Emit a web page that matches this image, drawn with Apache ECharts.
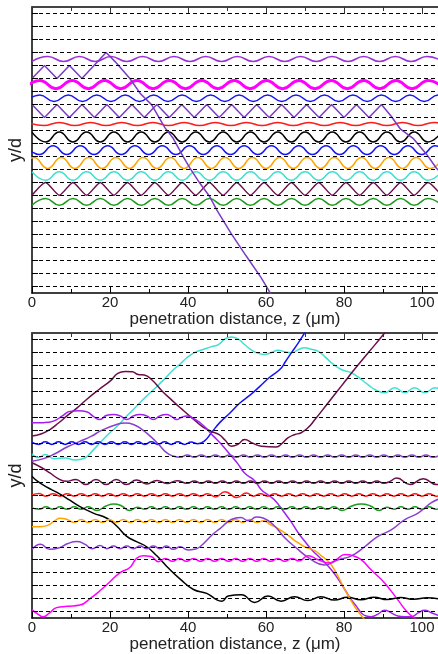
<!DOCTYPE html>
<html><head><meta charset="utf-8">
<script src="https://cdn.jsdelivr.net/npm/echarts@6/dist/echarts.min.js"></script>
<style>html,body{margin:0;padding:0;background:#fff}#c{width:438px;height:654px}</style>
</head><body><div id="c"></div><script>
// waveguide positions (dashed lines), in units of the array period d
const guides = [0,1,2,3,4,5,6,7,8,9,10,11,12,13,14,15,16,17,18,19,20,21];
const zTicks = [0,20,40,60,80,100];

// ---- upper panel: oscillating beams (extrema stations z, and the two alternating levels) ----
const violetTopZ = [0,4.05,8.1,12.15,16.2,20.25,24.3,28.35,32.4,36.45,40.5,44.55,48.6,52.65,56.7,60.75,64.8,68.85,72.9,76.95,81,85.05,89.1,93.15,97.2,101.25,105.3];
const violetTopLv = [3.69,3.31];
const magentaTopZ = [-2.15,2,6.15,10.3,14.45,18.6,22.75,26.9,31.05,35.2,39.35,43.5,47.65,51.8,55.95,60.1,64.25,68.4,72.55,76.7,80.85,85,89.15,93.3,97.45,101.6,105.75];
const magentaTopLv = [5.78,5.15];
const blueTopZ = [-1.65,2,5.65,9.3,12.95,16.6,20.25,23.9,27.55,31.2,34.85,38.5,42.15,45.8,49.45,53.1,56.75,60.4,64.05,67.7,71.35,75,78.65,82.3,85.95,89.6,93.25,96.9,100.55,104.2,107.85];
const blueTopLv = [6.77,6.26];
const redTopZ = [-1,3,7,11,15,19,23,27,31,35,39,43,47,51,55,59,63,67,71,75,79,83,87,91,95,99,103,107];
const redTopLv = [8.38,8.62];
const blackTopZ = [0,3.5,7,10.5,14,17.5,21,24.5,28,31.5,35,38.5,42,45.5,49,52.5,56,59.5,63,66.5,70,73.5,77,80.5,84,87.5,91,94.5,98,101.5,105];
const blackTopLv = [9.12,9.88];
const blue2TopZ = [-1.6,1.9,5.4,8.9,12.4,15.9,19.4,22.9,26.4,29.9,33.4,36.9,40.4,43.9,47.4,50.9,54.4,57.9,61.4,64.9,68.4,71.9,75.4,78.9,82.4,85.9,89.4,92.9,96.4,99.9,103.4,106.9];
const blue2TopLv = [10.18,10.85];
const orangeTopZ = [-3,0.5,4,7.5,11,14.5,18,21.5,25,28.5,32,35.5,39,42.5,46,49.5,53,56.5,60,63.5,67,70.5,74,77.5,81,84.5,88,91.5,95,98.5,102,105.5];
const orangeTopLv = [11.92,11.08];
const turqTopZ = [0,3.5,7,10.5,14,17.5,21,24.5,28,31.5,35,38.5,42,45.5,49,52.5,56,59.5,63,66.5,70,73.5,77,80.5,84,87.5,91,94.5,98,101.5,105];
const turqTopLv = [12.18,12.82];
const maroonTopZ = [0,3.5,7,10.5,14,17.5,21,24.5,28,31.5,35,38.5,42,45.5,49,52.5,56,59.5,63,66.5,70,73.5,77,80.5,84,87.5,91,94.5,98,101.5,105];
const maroonTopLv = [13.98,13.0];
const greenTopZ = [0,3.5,7,10.5,14,17.5,21,24.5,28,31.5,35,38.5,42,45.5,49,52.5,56,59.5,63,66.5,70,73.5,77,80.5,84,87.5,91,94.5,98,101.5,105];
const greenTopLv = [14.75,14.23];
// beams that hop between neighbouring guides and then escape
const hopTop1 = [[0,5],[3.2,4],[6.4,5],[9.6,4],[12.8,5],[19,3],[21.3,3.7],[25.1,5],[27.7,6.13],[30.7,7.03],[34.1,8.8],[36.2,9.6],[38.8,11.03],[40.5,11.9],[43.1,13.08],[45.6,14.1],[47.4,15.13],[51,16.9],[54.8,18.6],[58.7,20.3],[61.5,21.7]];
const hopTop2 = [[0,7],[3.2,8],[6.4,7],[9.6,8],[12.8,7],[16,8],[19.2,7],[22.4,8],[25.6,7],[28.8,8],[32,7],[35.2,8],[38.4,7],[41.6,8],[44.8,7],[48,8],[51.2,7],[54.4,8],[57.6,7],[60.8,8],[64,7],[67.2,8],[70.4,7],[73.6,8],[76.8,7],[80,8],[83.2,7],[86.4,8],[89.6,7],[92.1,7.9],[94.5,8.9],[97.7,9.6],[101.1,10.8],[103.7,11.9],[105,12.3]];

// ---- lower panel: beam trajectories ----
const turqBot = [[0,8.85],[1.7,9.12],[3.4,8.88],[5.6,9.2],[8.5,9.15],[11,9.3],[13.5,9.15],[15.5,8.6],[17.5,7.95],[19.6,7.3],[21.8,6.7],[24,6.0],[26,5.4],[28.6,4.6],[31.2,3.86],[33.8,3.1],[36.3,2.32],[38,1.9],[39.7,1.41],[41.8,1.0],[43.9,0.77],[46,0.55],[47.8,0.39],[49.5,-0.05],[51.2,-0.2],[52.8,-0.05],[54.5,0.39],[57,0.95],[59.6,1.16],[61.4,1.0],[63.1,0.83],[64.8,0.95],[66.5,1.03],[68.2,0.8],[69.9,0.64],[71.6,0.75],[73.3,0.9],[75,1.3],[76.8,1.8],[79.3,2.32],[81.9,2.57],[84.4,3.09],[86.2,3.5],[87.9,3.86],[90.4,4.12],[93,3.73],[95.6,4.1],[98.1,3.73],[100.7,4.1],[103.3,3.73],[105.9,4.1]];
const blueBot = [[0,7.92],[1.7,8.1],[3.4,7.9],[5.1,8.1],[6.8,7.9],[8.5,8.1],[10.2,7.9],[11.9,8.1],[13.6,7.9],[15.3,8.1],[17,7.9],[18.7,8.1],[20.4,7.9],[22.1,8.1],[23.8,7.9],[25.5,8.1],[27.2,7.9],[28.9,8.1],[30.6,7.9],[32.3,8.1],[34,7.9],[35.7,8.1],[37.4,7.9],[39.1,8.1],[40.8,7.92],[42.5,8.05],[44.2,7.85],[46,7.2],[48.2,6.4],[50.7,5.7],[53.3,4.9],[55.9,4.3],[58.5,3.6],[61,2.9],[63.6,2.3],[65,1.7],[66.5,1.03],[68.2,0.3],[69.9,-0.5],[70.5,-0.8]];
const maroonBot1 = [[0,7.46],[2.3,7.3],[4.6,6.95],[6.8,6.45],[8.9,5.92],[11.5,5.3],[14,4.63],[17,3.9],[20.1,3.2],[22,2.62],[23.9,2.48],[25.7,2.5],[27.2,2.7],[28.8,2.75],[30.5,3.05],[33.4,3.99],[35.9,4.7],[38.5,5.4],[41,6.05],[43.6,6.7],[46,7.1],[47.9,7.33],[49.6,7.8],[51.1,8.24],[52.8,8.1],[54.5,7.72],[56.6,8.0],[58.8,8.24],[62.6,8.3],[64.2,8.0],[65.6,7.6],[67.3,7.35],[69,7.2],[70.8,6.8],[72.5,6.2],[75.9,4.9],[79.3,3.6],[82.7,2.3],[86.2,1.03],[90.4,-0.5],[91,-0.8]];
const violetBot1 = [[0,6.43],[3,6.42],[5.5,6.3],[7.8,5.9],[9.7,5.55],[12,5.5],[14,5.58],[15.8,5.95],[17.4,6.18],[19.2,5.85],[20.9,5.8],[22.6,5.9],[24.3,6.18],[26,5.9],[27.7,5.8],[29.4,5.9],[31.1,6.18],[32.8,5.9],[34.5,5.8],[35.8,5.95],[37.1,6.18],[38.4,6.0],[39.7,5.9],[41.4,6.1],[43.1,6.43],[44.8,6.9],[46.5,7.46],[48.2,7.98],[49.7,8.5],[51.1,9.0],[52.8,9.6],[54.5,10.3],[57.1,10.9],[58.8,11.6],[60.5,12.0],[62.2,12.4],[64.8,13.4],[66.5,14.1],[68.2,14.9],[70,15.6],[71.6,16.2],[73.3,16.7],[75,17.2],[76.8,17.8],[78.5,18.5],[80.2,19.3],[81.9,20.1],[83.2,20.6],[84.4,21.1],[85.7,21.35],[87,21.4],[88.7,21.2],[90.4,20.9],[92.1,21.1],[93.8,21.35],[95.5,21.4],[97.3,21.4],[99,21.1],[100.7,20.9],[102.4,21.1],[104.1,21.3]];
const violetBot2 = [[0,9.4],[3,9.2],[6,8.8],[9,8.3],[12,7.9],[15,7.5],[18,7.0],[21.7,6.56],[24,6.45],[26,6.56],[28,6.9],[30.3,7.46],[32.5,8.1],[34.5,8.74],[36.2,9.0],[38,9.1],[39.8,8.92],[41.6,9.1],[43.4,8.92],[45.2,9.1],[47,8.92],[48.8,9.1],[50.6,8.92],[52.4,9.1],[54.2,8.92],[56,9.1],[57.8,8.92],[59.6,9.1],[61.4,8.92],[63.2,9.1],[65,8.92],[66.8,9.1],[68.6,8.92],[70.4,9.1],[72.2,8.92],[74,9.1],[75.8,8.92],[77.6,9.1],[79.4,8.92],[81.2,9.1],[83,8.92],[84.8,9.1],[86.6,8.92],[88.4,9.1],[90.2,8.92],[92,9.1],[93.8,8.92],[95.6,9.1],[97.4,8.92],[99.2,9.1],[101,8.92],[102.8,9.1],[104.6,8.92]];
const maroonBot2 = [[0,9.52],[2.5,9.9],[4.6,10.3],[6.5,10.7],[8.9,10.95],[11.2,10.8],[13.8,11.2],[16.4,10.8],[19,11.2],[21.6,10.8],[24.2,11.2],[26.8,10.85],[29.4,11.15],[32,10.88],[34.6,11.12],[37.2,10.9],[39.8,11.1],[41.6,10.92],[43.4,11.1],[45.2,10.92],[47,11.1],[48.8,10.92],[50.6,11.1],[52.4,10.92],[54.2,11.1],[56,10.92],[57.8,11.1],[59.6,10.92],[61.4,11.1],[63.2,10.92],[65,11.1],[66.8,10.92],[68.6,11.1],[70.4,10.92],[72.2,11.1],[74,10.92],[75.8,11.1],[77.6,10.92],[79.4,11.1],[81.2,10.92],[83,11.1],[84.8,10.92],[86.6,11.1],[88.4,10.92],[90.2,11.1],[91.8,10.95],[93.5,10.7],[96.9,11.2],[100.3,10.75],[103.7,11.2],[106,10.9]];
const blackBot = [[0,10.55],[1.2,10.9],[3.8,11.4],[6.4,11.8],[9.7,12.4],[12.3,12.9],[15.7,13.4],[19.2,13.8],[21.7,14.4],[24.3,15.2],[26.8,15.6],[29.4,16],[32,16.7],[34.5,17.5],[38,18.5],[41.4,19.3],[44.8,19.6],[47.4,20.1],[48.7,20.2],[50.3,19.8],[53.7,19.7],[57.1,20.3],[60.5,19.8],[63.9,20.2],[67.3,19.85],[70.7,20.15],[74.1,19.85],[77.5,20.12],[80.9,19.9],[84.3,20.1],[87.7,19.9],[91.1,20.08],[94.5,19.92],[97.9,20.06],[101.3,19.94],[104.7,20.05]];
const redBot = [[0,12.0],[1.8,11.88],[3.6,12.1],[5.4,11.9],[7.2,12.1],[9,11.9],[10.8,12.1],[12.6,11.9],[14.4,12.1],[16.2,11.9],[18,12.1],[19.8,11.9],[21.6,12.1],[23.4,11.9],[25.2,12.1],[27,11.9],[28.8,12.1],[30.6,11.9],[32.4,12.1],[34.2,11.9],[36,12.1],[37.8,11.9],[39.6,12.1],[41.4,11.9],[43.2,12.1],[45,11.9],[47,12.15],[49.5,11.75],[52.5,12.2],[55,11.85],[56.8,12.1],[58.6,11.9],[60.4,12.1],[62.2,11.9],[64,12.1],[65.8,11.9],[67.6,12.1],[69.4,11.9],[71.2,12.1],[73,11.9],[74.8,12.1],[76.6,11.9],[78.4,12.1],[80.2,11.9],[82,12.1],[83.8,11.9],[85.6,12.1],[87.4,11.9],[89.2,12.1],[91,11.9],[92.8,12.1],[94.6,11.9],[96.4,12.1],[98.2,11.9],[100,12.1],[101.8,11.9],[103.6,12.1],[105.4,11.9]];
const greenBot = [[0,13.0],[1.8,13.1],[3.6,12.92],[5.4,13.1],[7.2,12.92],[9,13.1],[10.8,12.92],[12.6,13.1],[14.4,12.92],[16.6,13.2],[19,12.85],[21,12.7],[23,12.85],[25,13.2],[27,12.95],[28.8,13.1],[30.6,12.92],[32.4,13.1],[34.2,12.92],[36,13.1],[37.8,12.92],[39.6,13.1],[41.4,12.92],[43.2,13.1],[45,12.92],[46.8,13.1],[48.6,12.92],[50.4,13.1],[52.2,12.92],[54,13.1],[55.8,12.92],[57.6,13.1],[59.4,12.92],[61.2,13.1],[63,12.92],[64.8,13.1],[66.6,12.92],[68.4,13.1],[70.2,12.92],[72,13.1],[73.8,12.92],[75.6,13.1],[77.4,12.92],[79.5,13.2],[82,12.85],[84.4,12.7],[86.8,12.85],[89,13.2],[91,12.95],[92.8,13.1],[94.6,12.92],[96.4,13.1],[98.2,12.92],[100,13.1],[101.8,12.92],[103.6,13.1],[105.4,12.92]];
const orangeBot = [[0,14.45],[2,14.45],[4,14.35],[5.8,14.0],[7.2,13.8],[9,13.9],[10.8,14.12],[12.6,13.9],[14.4,14.12],[16.2,13.9],[18,14.12],[19.8,13.9],[21.6,14.12],[23.4,13.9],[25.2,14.12],[27,13.9],[28.8,14.12],[30.6,13.9],[32.4,14.12],[34.2,13.9],[36,14.12],[37.8,13.9],[39.6,14.12],[41.4,13.9],[43.2,14.12],[45,13.9],[46.8,14.12],[48.6,13.9],[50.4,14.12],[52.2,13.9],[54,14.12],[55.8,13.9],[57.6,14.12],[59.4,14.0],[61.2,14.3],[63.1,14.6],[65.6,15.1],[67.3,15.5],[69.9,16.0],[72.5,16.3],[74.2,16.7],[75.9,17.1],[77.6,17.8],[80.2,19.3],[82.7,20.6],[84.4,21.3],[85.5,21.7]];
const purpleBot3 = [[0,16.2],[2.2,15.8],[4.5,16.2],[6.8,16.1],[9.2,15.75],[11.5,15.6],[13.5,15.8],[15.5,16.15],[17.4,15.9],[19.2,16.15],[20.9,15.95],[22.6,16.15],[24.3,15.95],[26,16.15],[27.7,15.95],[29.4,16.15],[31.1,15.95],[32.8,16.15],[34.5,15.95],[36.2,16.2],[38,16.0],[40,16.25],[41.6,16.2],[43.1,16.0],[46.5,15.0],[48.2,14.6],[51.1,13.9],[53.5,13.75],[55.5,14.0],[57.5,13.7],[59.4,13.8],[62.2,14.4],[64.8,15.3],[68.2,16.2],[71.6,17.0],[75,17.4],[78.5,17.0],[81.9,16.7],[85.3,16.0],[88.7,15.2],[92.1,14.7],[95.6,13.9],[99,13.4],[102.4,12.6],[104.5,12.3]];
const magentaBot = [[0,20.85],[1.5,21.2],[2.9,21.4],[4.5,21.1],[6.3,20.7],[9,20.6],[12.3,20.5],[14.9,20.0],[17.4,19.4],[20,18.7],[22.6,18.0],[25.1,17.6],[26.8,16.9],[28.5,16.7],[30.5,16.75],[32.4,17.15],[34.2,16.9],[36,17.12],[37.8,16.9],[39.6,17.12],[41.4,16.9],[43.2,17.12],[45,16.9],[46.8,17.12],[48.6,16.9],[50.4,17.12],[52.2,16.9],[54,17.12],[55.8,16.9],[57.6,17.12],[59.4,16.9],[61.2,17.12],[63,16.9],[64.8,17.12],[66.6,16.9],[68.4,17.1],[70.8,16.7],[73.4,17.0],[75.9,17.25],[78,17.0],[80.2,16.6],[82.4,16.7],[84.4,17.0],[87,17.8],[90.4,18.8],[93.8,20.1],[96.4,21.1],[98.1,21.5],[99,21.7]];

const FONT = '"Liberation Sans", Arial, sans-serif';

function wave(zs, lv) { return zs.map((z, i) => [z, lv[i % 2]]); }

function curve(g, data, color, width, smooth) {
  return {
    type: 'line', xAxisIndex: g * 2, yAxisIndex: g, data: data,
    symbol: 'none', smooth: smooth, clip: true, silent: true,
    lineStyle: { color: color, width: width }, z: 3
  };
}
function guideLines(g) {
  return {
    type: 'line', xAxisIndex: g * 2, yAxisIndex: g, data: [], symbol: 'none', silent: true,
    markLine: {
      silent: true, symbol: 'none', label: { show: false }, animation: false,
      lineStyle: { type: [4, 3], color: '#000', width: 1 },
      data: guides.map(v => ({ yAxis: v }))
    }, z: 1
  };
}
function xAxes(g) {
  return [{
    type: 'value', gridIndex: g, min: 0, max: 104.1, interval: 20, position: 'bottom',
    name: 'penetration distance, z (\u03bcm)', nameLocation: 'middle', nameGap: 17,
    nameTextStyle: { fontFamily: FONT, fontSize: 17, color: '#222' },
    axisLine: { show: true, onZero: false, lineStyle: { color: '#000', width: 1.5 } },
    axisTick: { show: true, inside: true, length: 7, lineStyle: { color: '#000', width: 1 }, customValues: zTicks },
    minorTick: { show: true, splitNumber: 2, length: 4, lineStyle: { color: '#000' } },
    axisLabel: { fontFamily: FONT, fontSize: 15, color: '#222', margin: 2, customValues: zTicks },
    splitLine: { show: false }, minorSplitLine: { show: false }
  }, {
    type: 'value', gridIndex: g, min: 0, max: 104.1, interval: 20, position: 'top',
    axisLine: { show: true, onZero: false, lineStyle: { color: '#444', width: 2 } },
    axisTick: { show: true, inside: true, length: 7, lineStyle: { color: '#333', width: 1 } },
    minorTick: { show: true, splitNumber: 2, length: 4, lineStyle: { color: '#333' } },
    axisLabel: { show: false }, splitLine: { show: false }
  }];
}
function yAxis(g) {
  return {
    type: 'value', gridIndex: g, min: -0.5, max: 21.5, inverse: true,
    name: 'y/d', nameLocation: 'middle', nameGap: 7, nameRotate: 90,
    nameTextStyle: { fontFamily: FONT, fontSize: 18, color: '#222' },
    axisLine: { show: true, onZero: false, lineStyle: { color: '#000', width: 1.5 } },
    axisTick: { show: true, inside: true, length: 6, customValues: guides, lineStyle: { color: '#000' } },
    axisLabel: { show: false }, splitLine: { show: false }
  };
}

const chart = echarts.init(document.getElementById('c'), null, { renderer: 'canvas' });
chart.setOption({
  animation: false,
  backgroundColor: '#fff',
  grid: [
    { left: 32, top: 7, width: 406, height: 286, containLabel: false, outerBoundsMode: 'none' },
    { left: 32, top: 333, width: 406, height: 285, containLabel: false, outerBoundsMode: 'none' }
  ],
  xAxis: [...xAxes(0), ...xAxes(1)],
  yAxis: [yAxis(0), yAxis(1)],
  series: [
    guideLines(0), guideLines(1),
    curve(0, wave(violetTopZ, violetTopLv), '#9b30d9', 1.5, true),
    curve(0, wave(magentaTopZ, magentaTopLv), '#ff00ff', 3, true),
    curve(0, wave(blueTopZ, blueTopLv), '#1414f5', 1.5, true),
    curve(0, wave(redTopZ, redTopLv), '#ff1a1a', 1.5, true),
    curve(0, wave(blackTopZ, blackTopLv), '#000000', 1.5, true),
    curve(0, wave(blue2TopZ, blue2TopLv), '#1414f5', 1.5, true),
    curve(0, wave(orangeTopZ, orangeTopLv), '#ffa500', 1.5, true),
    curve(0, wave(turqTopZ, turqTopLv), '#40e0d0', 1.5, true),
    curve(0, wave(maroonTopZ, maroonTopLv), '#6b0d4a', 1.5, 0.2),
    curve(0, wave(greenTopZ, greenTopLv), '#1e9b1e', 1.5, true),
    curve(0, hopTop1, '#7a3bc4', 1.5, false),
    curve(0, hopTop2, '#7a3bc4', 1.5, false),

    curve(1, turqBot, '#40e0d0', 1.5, true),
    curve(1, blueBot, '#1414f5', 1.5, true),
    curve(1, maroonBot1, '#6b0d4a', 1.5, true),
    curve(1, violetBot1, '#a020f0', 1.5, true),
    curve(1, violetBot2, '#8a3fd0', 1.5, true),
    curve(1, maroonBot2, '#6b0d4a', 1.5, true),
    curve(1, blackBot, '#000000', 1.5, true),
    curve(1, redBot, '#ff1a1a', 1.5, true),
    curve(1, greenBot, '#1e9b1e', 1.5, true),
    curve(1, orangeBot, '#ffa500', 1.5, true),
    curve(1, purpleBot3, '#8a3fd0', 1.5, true),
    curve(1, magentaBot, '#ff00ff', 1.5, true)
  ]
});
</script></body></html>
